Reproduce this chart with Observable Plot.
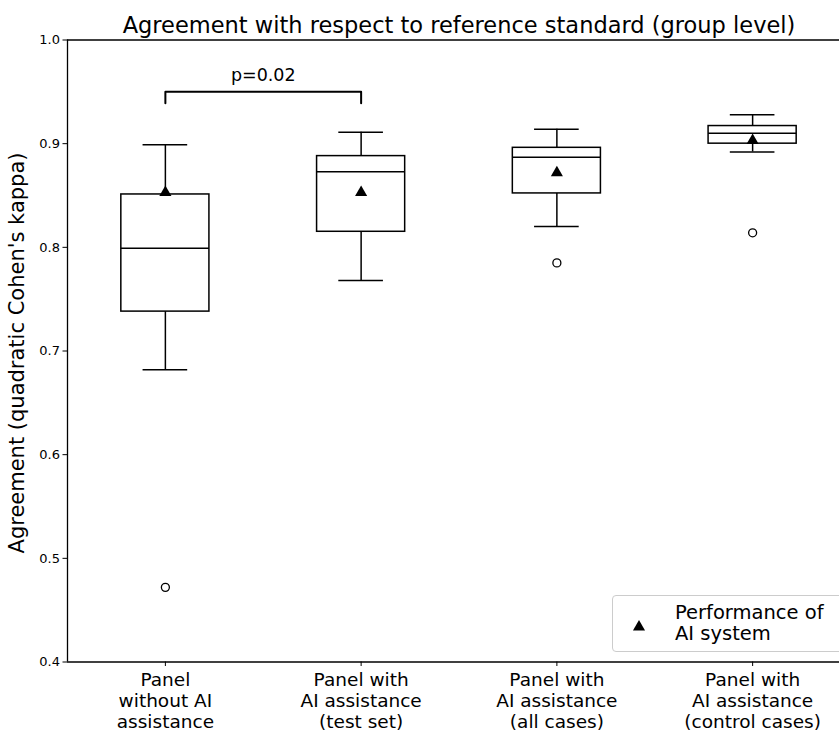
<!DOCTYPE html>
<html>
<head>
<meta charset="utf-8">
<script src="https://cdn.jsdelivr.net/npm/d3@7"></script>
<script src="https://cdn.jsdelivr.net/npm/@observablehq/plot@0.6"></script>
<style>
  html, body { margin: 0; padding: 0; background: #fff; }
  #wrap { position: relative; width: 839px; height: 733px; overflow: hidden; font-family: "DejaVu Sans", sans-serif; }
  #legend {
    position: absolute; left: 612px; top: 595px; width: 260px; height: 57px;
    border: 1px solid #cccccc; border-radius: 4px; background: rgba(255,255,255,0.8);
    box-sizing: border-box;
  }
  #legend svg { position: absolute; left: 18px; top: 23px; }
  #legend .lbl { position: absolute; left: 62px; top: 5.5px; font-size: 19.5px; line-height: 21px; color: #000; white-space: nowrap; }
</style>
</head>
<body>
<div id="wrap"></div>
<script>
// ---- data ----
const categories = [
  "Panel\nwithout AI\nassistance",
  "Panel with\nAI assistance\n(test set)",
  "Panel with\nAI assistance\n(all cases)",
  "Panel with\nAI assistance\n(control cases)"
];
const positions = [1, 2, 3, 4];
const whiskerLow  = [0.682, 0.768, 0.820, 0.892];
const q1          = [0.738, 0.815, 0.852, 0.900];
const median      = [0.799, 0.873, 0.887, 0.910];
const q3          = [0.851, 0.888, 0.896, 0.917];
const whiskerHigh = [0.899, 0.911, 0.914, 0.928];
const outlierPos  = [1, 3, 4];
const outlierVal  = [0.472, 0.785, 0.814];
const aiPerformance = [0.853, 0.853, 0.872, 0.903];
const yTicks = [0.4, 0.5, 0.6, 0.7, 0.8, 0.9, 1.0];
const bracketX = [1, 1, 2, 2];
const bracketY = [0.939, 0.950, 0.950, 0.939];
const pLabel = "p=0.02";
const pX = 1.5, pY = 0.9655;
const title = "Agreement with respect to reference standard (group level)";
const yLabel = "Agreement (quadratic Cohen's kappa)";

// ---- tables ----
const boxes = positions.map((p, i) => ({
  pos: p, lo: whiskerLow[i], q1: q1[i], med: median[i], q3: q3[i], hi: whiskerHigh[i], ai: aiPerformance[i]
}));
const outliers = outlierPos.map((p, i) => ({pos: p, v: outlierVal[i]}));
const bracket = bracketX.map((x, i) => ({x, y: bracketY[i]}));

const HALF = 0.225, CAP = 0.114;
const ink = "#000";

const chart = Plot.plot({
  width: 839,
  height: 733,
  marginLeft: 67,
  marginRight: 0,
  marginTop: 39.5,
  marginBottom: 71.5,
  style: {fontFamily: "DejaVu Sans, sans-serif", background: "white", color: ink},
  x: {type: "linear", domain: [0.5, 4.5], range: [67, 850]},
  y: {domain: [0.4, 1.0]},
  marks: [
    Plot.ruleY([0.4, 1.0], {stroke: ink, strokeWidth: 1.3}),
    Plot.ruleX([0.5], {stroke: ink, strokeWidth: 1.3}),
    Plot.axisY({ticks: yTicks, tickFormat: d3.format(".1f"), tickSize: 4.5, tickPadding: 3, fontSize: 13, label: null, stroke: ink}),
    Plot.axisX({ticks: positions, tickFormat: i => categories[i - 1], tickSize: 4.5, tickPadding: 5, fontSize: 18.5, lineHeight: 1.13, label: null, stroke: ink}),
    // whiskers
    Plot.ruleX(boxes, {x: "pos", y1: "lo", y2: "q1", stroke: ink, strokeWidth: 1.5}),
    Plot.ruleX(boxes, {x: "pos", y1: "q3", y2: "hi", stroke: ink, strokeWidth: 1.5}),
    // caps
    Plot.ruleY(boxes, {y: "lo", x1: d => d.pos - CAP, x2: d => d.pos + CAP, stroke: ink, strokeWidth: 1.5}),
    Plot.ruleY(boxes, {y: "hi", x1: d => d.pos - CAP, x2: d => d.pos + CAP, stroke: ink, strokeWidth: 1.5}),
    // boxes
    Plot.rect(boxes, {x1: d => d.pos - HALF, x2: d => d.pos + HALF, y1: "q1", y2: "q3", fill: "white", stroke: ink, strokeWidth: 1.5}),
    // medians
    Plot.ruleY(boxes, {y: "med", x1: d => d.pos - HALF, x2: d => d.pos + HALF, stroke: ink, strokeWidth: 1.5}),
    // outliers
    Plot.dot(outliers, {x: "pos", y: "v", r: 4, fill: "white", stroke: ink, strokeWidth: 1.3}),
    // AI system performance
    Plot.dot(boxes, {x: "pos", y: "ai", symbol: "triangle", r: 4.5, fill: ink, stroke: "none"}),
    // significance bracket
    Plot.line(bracket, {x: "x", y: "y", stroke: ink, strokeWidth: 2, curve: "linear"}),
    Plot.text([pLabel], {x: () => pX, y: () => pY, text: d => d, fontSize: 17.5, fill: ink}),
    // title
    Plot.text([title], {frameAnchor: "top", lineAnchor: "middle", text: d => d, dx: 5.5, dy: -14.5, fontSize: 22.5, fill: ink}),
    // y label
    Plot.text([yLabel], {frameAnchor: "left", textAnchor: "middle", lineAnchor: "middle", text: d => d, rotate: -90, dx: -50.5, dy: 2, fontSize: 21, fill: ink})
  ]
});

const wrap = document.getElementById("wrap");
wrap.appendChild(chart);
const legend = document.createElement("div");
legend.id = "legend";
legend.innerHTML = '<svg width="16" height="14" viewBox="-8 -7 16 14"><path d="' +
  d3.symbol(d3.symbolTriangle, Math.PI * 4.5 * 4.5)() + '" fill="#000" transform="translate(0,1)"/></svg>' +
  '<div class="lbl">Performance of<br>AI system</div>';
wrap.appendChild(legend);
</script>
</body>
</html>
